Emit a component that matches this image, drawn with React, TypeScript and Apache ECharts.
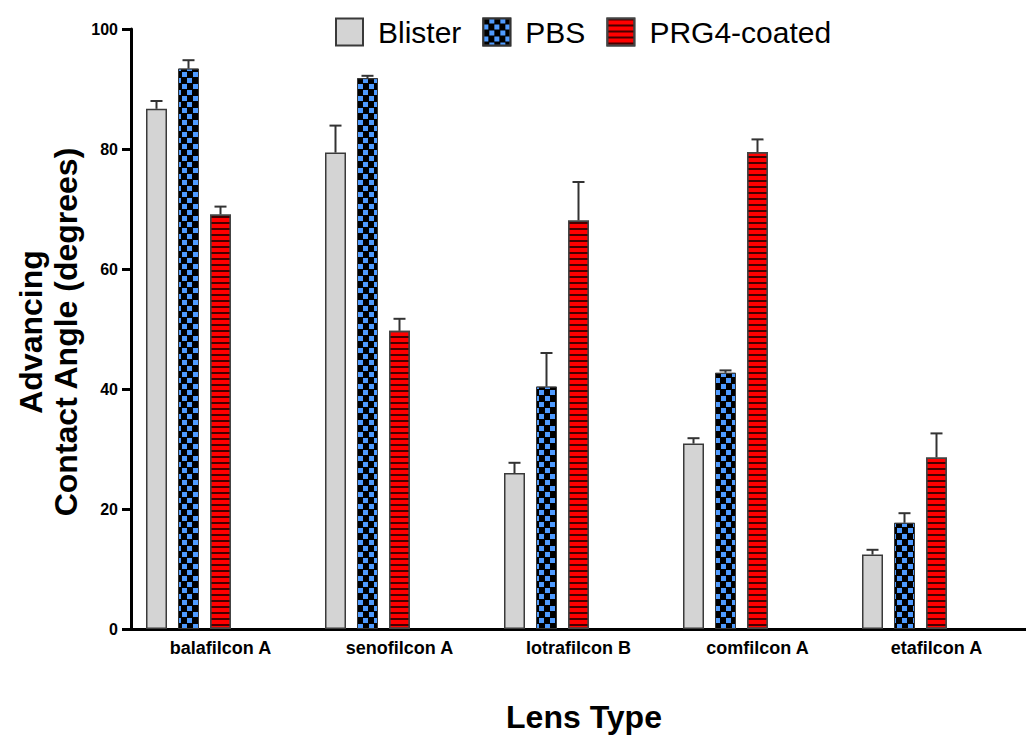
import React, { useEffect, useRef } from 'react';
import * as echarts from 'echarts';

const categories = ['balafilcon A', 'senofilcon A', 'lotrafilcon B', 'comfilcon A', 'etafilcon A'];
const seriesNames = ['Blister', 'PBS', 'PRG4-coated'];
const blisterMean = [86.7, 79.4, 26.0, 30.9, 12.4];
const blisterErr = [1.3, 4.5, 1.7, 0.9, 0.8];
const pbsMean = [93.4, 91.8, 40.4, 42.7, 17.7];
const pbsErr = [1.4, 0.4, 5.6, 0.4, 1.6];
const prg4Mean = [69.1, 49.7, 68.1, 79.5, 28.6];
const prg4Err = [1.3, 2.0, 6.4, 2.1, 4.0];
const emptySlot = [null, null, null, null, null];

const FONT = '"Liberation Sans", Arial, sans-serif';
const BAR_W = 21;
const BAR_GAP_PX = 11;

function errSeries(means: number[], errs: number[], slot: number) {
  const offset = (slot - 2) * (BAR_W + BAR_GAP_PX);
  return {
    type: 'custom',
    z: 5,
    silent: true,
    data: means.map((m, i) => [i, m, errs[i]]),
    encode: { x: 0, y: 1 },
    renderItem: (_params: any, api: any) => {
      const idx = api.value(0);
      const m = api.value(1);
      const e = api.value(2);
      const base = api.coord([idx, m]);
      const top = api.coord([idx, m + e]);
      const cx = base[0] + offset;
      const st = { stroke: '#333', lineWidth: 2 };
      return {
        type: 'group',
        children: [
          { type: 'line', shape: { x1: cx, y1: base[1], x2: cx, y2: top[1] }, style: st },
          { type: 'line', shape: { x1: cx - 6, y1: top[1], x2: cx + 6, y2: top[1] }, style: st },
        ],
      };
    },
  };
}

export default function App() {
  const ref = useRef<HTMLDivElement>(null);
  useEffect(() => {
    if (!ref.current) return;
    const chart = echarts.init(ref.current, undefined, { renderer: 'svg' });
    const barGap = `${(BAR_GAP_PX / BAR_W) * 100}%`;
    chart.setOption({
      animation: false,
      backgroundColor: '#fff',
      legend: {
        data: seriesNames,
        left: 330,
        top: 12,
        itemWidth: 27,
        itemHeight: 27,
        itemGap: 21,
        icon: 'rect',
        textStyle: { fontSize: 30, fontFamily: FONT, color: '#000', padding: [0, 0, 0, 10] },
      },
      grid: { left: 131, top: 29, width: 899, height: 600 },
      xAxis: {
        type: 'category',
        data: categories,
        axisLine: { lineStyle: { color: '#000', width: 3 } },
        axisTick: { alignWithLabel: true, length: 7, lineStyle: { color: '#000', width: 3 } },
        axisLabel: { fontFamily: FONT, fontWeight: 'bold', fontSize: 18, color: '#000', margin: 10 },
      },
      yAxis: {
        type: 'value',
        min: 0,
        max: 100,
        interval: 20,
        splitLine: { show: false },
        axisLine: { show: true, lineStyle: { color: '#000', width: 3 } },
        axisTick: { show: true, length: 9, lineStyle: { color: '#000', width: 3 } },
        axisLabel: { fontFamily: FONT, fontWeight: 'bold', fontSize: 16, color: '#000', margin: 13 },
      },
      series: [
        {
          type: 'bar',
          name: 'Blister',
          data: blisterMean,
          barWidth: BAR_W,
          barGap,
          itemStyle: { color: '#d4d4d4', borderColor: '#3a3a3a', borderWidth: 1.5 },
        },
        {
          type: 'bar',
          name: 'PBS',
          data: pbsMean,
          barWidth: BAR_W,
          barGap,
          itemStyle: {
            color: '#000',
            borderColor: '#333',
            borderWidth: 1,
            decal: {
              symbol: 'rect',
              symbolSize: 1,
              color: '#4f9bff',
              dashArrayX: [[5, 6], [0, 6, 5, 0]],
              dashArrayY: [5, 1],
              rotation: 0,
            },
          },
        },
        {
          type: 'bar',
          name: 'PRG4-coated',
          data: prg4Mean,
          barWidth: BAR_W,
          barGap,
          itemStyle: {
            color: '#ff0000',
            borderColor: '#444',
            borderWidth: 1.5,
            decal: {
              symbol: 'rect',
              symbolSize: 1,
              color: 'rgba(50,0,0,0.9)',
              dashArrayX: [1, 0],
              dashArrayY: [2, 4],
              rotation: 0,
            },
          },
        },
        { type: 'bar', name: '_slot4', data: emptySlot, barWidth: BAR_W, barGap },
        { type: 'bar', name: '_slot5', data: emptySlot, barWidth: BAR_W, barGap },
        errSeries(blisterMean, blisterErr, 0),
        errSeries(pbsMean, pbsErr, 1),
        errSeries(prg4Mean, prg4Err, 2),
      ],
      graphic: [
        {
          type: 'text',
          x: 48,
          y: 332,
          rotation: Math.PI / 2,
          style: {
            text: 'Advancing\nContact Angle (degrees)',
            fontFamily: FONT,
            fontWeight: 'bold',
            fontSize: 32,
            lineHeight: 35,
            align: 'center',
            verticalAlign: 'middle',
            fill: '#000',
          },
        },
        {
          type: 'text',
          x: 584,
          y: 717,
          style: {
            text: 'Lens Type',
            fontFamily: FONT,
            fontWeight: 'bold',
            fontSize: 32,
            align: 'center',
            verticalAlign: 'middle',
            fill: '#000',
          },
        },
      ],
    });
    return () => chart.dispose();
  }, []);
  return (
    <div
      ref={ref}
      style={{ position: 'fixed', left: 0, top: 0, width: 1026, height: 735, background: '#fff' }}
    />
  );
}
